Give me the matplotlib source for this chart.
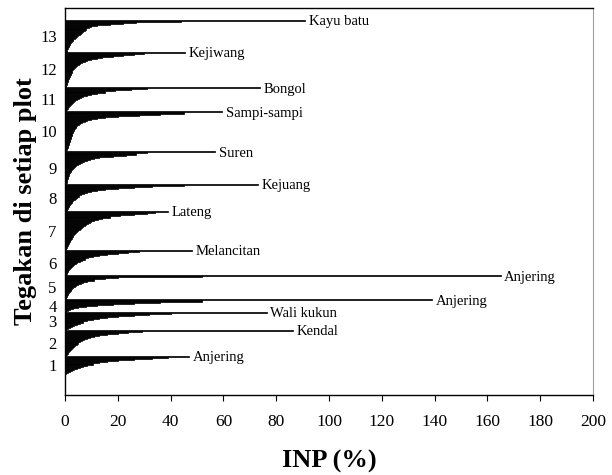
import matplotlib
matplotlib.use("Agg")
import matplotlib.pyplot as plt

# INP values per plot, sorted from the dominant species downwards
plot_numbers = list(range(1, 14))
dominant_names = ["Anjering", "Kendal", "Wali kukun", "Anjering", "Anjering",
                  "Melancitan", "Lateng", "Kejuang", "Suren", "Sampi-sampi",
                  "Bongol", "Kejiwang", "Kayu batu"]

inp_1 = [47, 39, 33, 26, 20, 16, 13, 10.5, 8.5, 6.8, 5.5, 4.4, 3.4, 2.6, 1.8, 1.1, 0.5]
inp_2 = [86.5, 29, 24, 20, 16, 13, 11, 9.5, 8.3, 7.3, 6.4, 5.7, 5.0, 4.4, 3.9, 3.4,
         3.0, 2.6, 2.2, 1.9, 1.6, 1.3, 1.0, 0.7, 0.4]
inp_3 = [76.5, 40, 32, 26, 20, 16, 13, 10.5, 8.5, 7, 5.5, 4.4, 3.4, 2.6, 1.9, 1.2, 0.5]
inp_4 = [139, 52, 36, 26, 18, 12, 8, 5, 3, 2, 1, 0.5]
inp_5 = [165, 52, 20, 15, 11, 8.5, 7, 6, 5, 4.3, 3.7, 3.2, 2.8, 2.4, 2.1, 1.8, 1.5,
         1.3, 1.1, 0.9, 0.7, 0.5, 0.3]
inp_6 = [48, 28, 24, 20, 16, 13, 10.5, 8.8, 7.5, 6.5, 5.5, 4.7, 4.0, 3.5, 3.0, 2.6,
         2.2, 1.9, 1.6, 1.3, 1.1, 0.9, 0.7, 0.5]
inp_7 = [39, 34, 31, 26, 21, 17, 14, 12.5, 11, 10, 9.3, 8.7, 8.1, 7.5, 7.0, 6.5, 6.0,
         5.5, 5.0, 4.6, 4.2, 3.8, 3.5, 3.2, 2.9, 2.6, 2.3, 2.0, 1.8, 1.6, 1.4, 1.2,
         1.0, 0.8, 0.6, 0.4, 0.2]
inp_8 = [73, 45, 33, 26, 20, 15, 12, 10, 8.5, 7.2, 6.2, 5.4, 4.7, 4.1, 3.6, 3.2, 2.8,
         2.5, 2.2, 1.9, 1.6, 1.4, 1.2, 1.0, 0.8, 0.6]
inp_9 = [57, 31, 27, 23, 18, 13, 11, 9.5, 8.3, 7.3, 6.4, 5.6, 4.9, 4.3, 3.8, 3.4, 3.0,
         2.7, 2.4, 2.1, 1.9, 1.7, 1.5, 1.3, 1.2, 1.0, 0.9, 0.8, 0.7, 0.6, 0.5]
inp_10 = [59.5, 45, 36, 28, 20, 15, 12, 10, 8.5, 7.5, 6.5, 5.8, 5.2, 4.7, 4.3, 4.0,
          3.7, 3.5, 3.3, 3.1, 2.9, 2.7, 2.6, 2.4, 2.3, 2.1, 2.0, 1.9, 1.8, 1.6, 1.5,
          1.4, 1.3, 1.2, 1.1, 0.9, 0.7, 0.5]
inp_11 = [74, 31, 25, 19, 15, 12, 10, 8.5, 7, 6, 5.2, 4.5, 3.9, 3.4, 3.0, 2.6, 2.2,
          1.9, 1.6, 1.3, 1.0, 0.8, 0.5]
inp_12 = [45.5, 30, 26, 22, 18, 14, 12, 10, 8.5, 7.5, 6.5, 5.8, 5.2, 4.6, 4.2, 3.8,
          3.4, 3.1, 2.8, 2.6, 2.4, 2.2, 2.0, 1.8, 1.6, 1.4, 1.3, 1.1, 1.0, 0.9, 0.7,
          0.6, 0.5, 0.4]
inp_13 = [91, 44, 27, 22, 17, 12, 10, 9, 8, 7.5, 7, 6.5, 6, 5.5, 5, 4.5, 4, 3.6, 3.2,
          2.9, 2.6, 2.3, 2.0, 1.8, 1.6, 1.4, 1.2, 1.0, 0.8, 0.6]

groups = [inp_1, inp_2, inp_3, inp_4, inp_5, inp_6, inp_7, inp_8, inp_9,
          inp_10, inp_11, inp_12, inp_13]

serif = "Liberation Serif"
fig = plt.figure(figsize=(6.12, 4.75), dpi=100)
ax = fig.add_axes([65 / 612, 80 / 475, 528 / 612, 387 / 475])

base = 0
tick_pos = []
for values, name in zip(groups, dominant_names):
    n = len(values)
    ys = [base + n - 1 - i for i in range(n)]
    ax.barh(ys, values, height=1.0, color="black", edgecolor="black", linewidth=0.5)
    ax.text(values[0] + 1.3, ys[0] - 1.2, name, ha="left", va="center",
            fontsize=10.5, family=serif)
    tick_pos.append(base + (n - 1) / 2)
    base += n

ax.set_xlim(0, 200)
ax.set_ylim(-20.5, base + 11)
ax.set_xticks(range(0, 201, 20))
ax.set_yticks(tick_pos)
ax.set_yticklabels([str(p) for p in plot_numbers])

ax.tick_params(axis="y", length=0, pad=6, labelsize=12)
ax.tick_params(axis="x", length=4, width=0.8, pad=10, labelsize=12.5, direction="out")
for lab in ax.get_xticklabels() + ax.get_yticklabels():
    lab.set_family(serif)

ax.spines["right"].set_color("#a0a0a0")
for s in ["top", "left", "bottom"]:
    ax.spines[s].set_color("black")
    ax.spines[s].set_linewidth(1.0)

ax.set_xlabel("INP (%)", fontsize=19, fontweight="bold", family=serif, labelpad=14)
ax.set_ylabel("Tegakan di setiap plot", fontsize=19, fontweight="bold",
              family=serif, labelpad=2)

fig.savefig("out.png", dpi=100)
